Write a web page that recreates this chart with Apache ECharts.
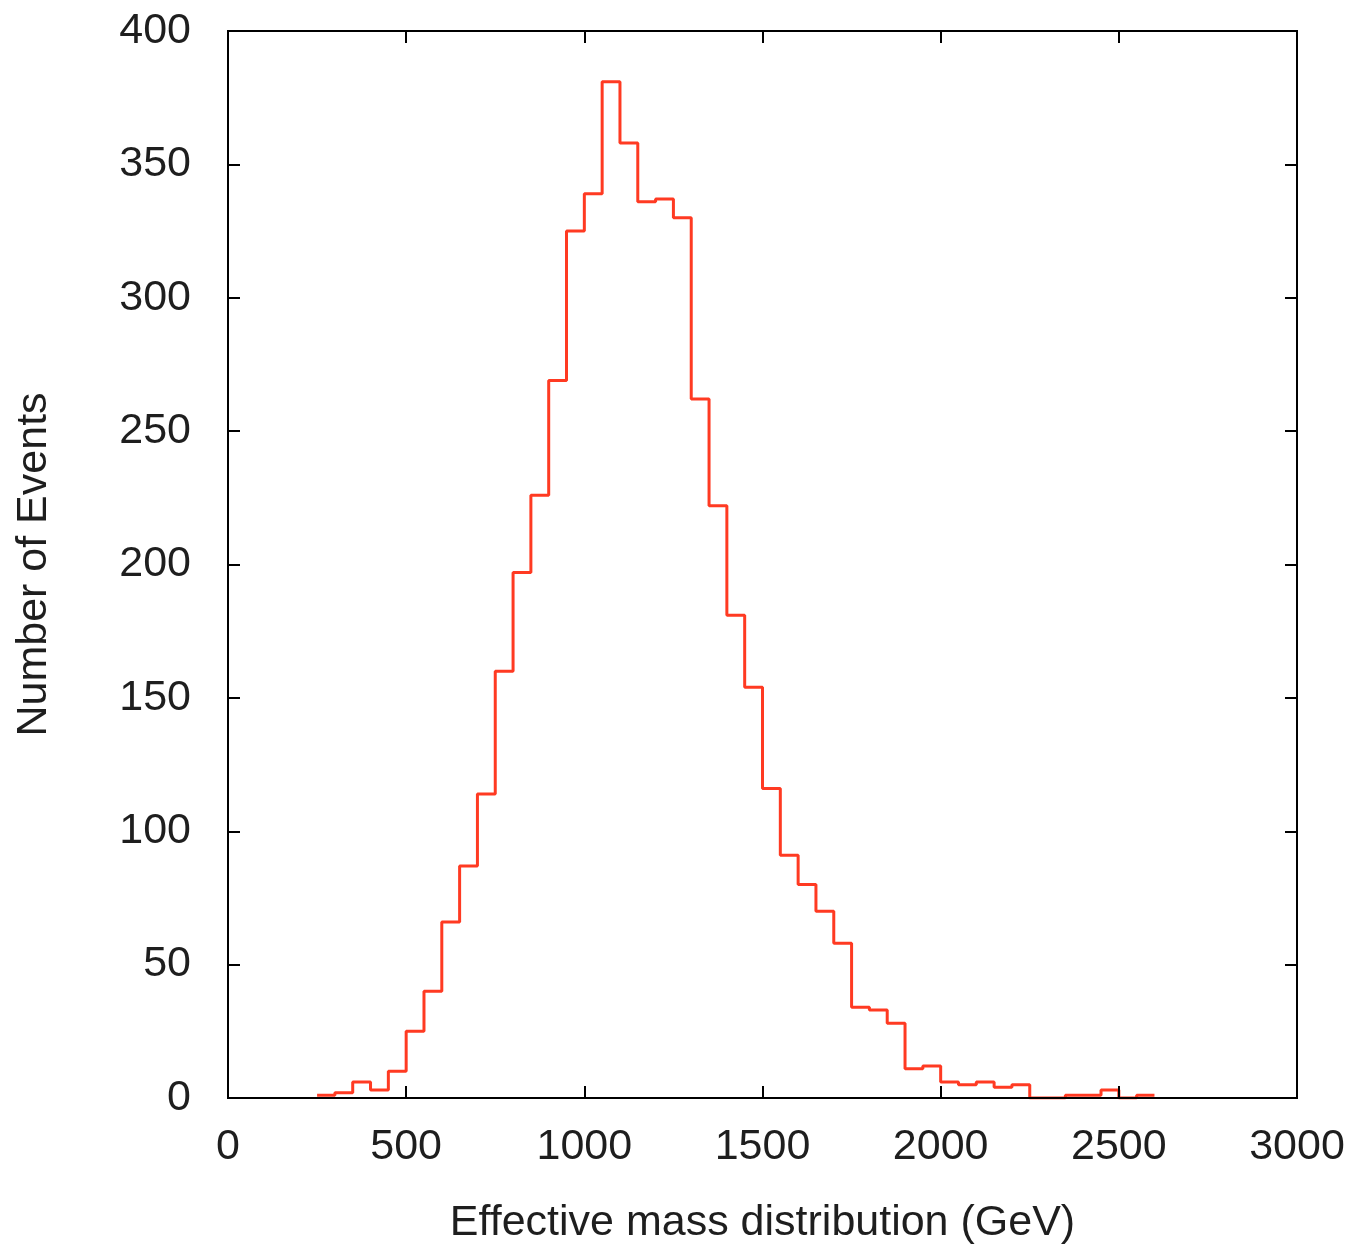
<!DOCTYPE html>
<html>
<head>
<meta charset="utf-8">
<script src="https://cdn.jsdelivr.net/npm/echarts@6/dist/echarts.min.js"></script>
<style>
html,body{margin:0;padding:0;background:#fff;}
#chart{width:1348px;height:1245px;}
</style>
</head>
<body>
<div id="chart"></div>
<script>
// Histogram bins (left edges, GeV) and event counts
const binWidth = 50;
const binLeft = [250,300,350,400,450,500,550,600,650,700,750,800,850,900,950,1000,1050,1100,1150,1200,1250,1300,1350,1400,1450,1500,1550,1600,1650,1700,1750,1800,1850,1900,1950,2000,2050,2100,2150,2200,2250,2300,2350,2400,2450,2500,2550];
const counts  = [1,2,6,3,10,25,40,66,87,114,160,197,226,269,325,339,381,358,336,337,330,262,222,181,154,116,91,80,70,58,34,33,28,11,12,6,5,6,4,5,0,0,1,1,3,0,1];
const xTicks = [0,500,1000,1500,2000,2500,3000];
const yTicks = [0,50,100,150,200,250,300,350,400];

const stepData = binLeft.map((x, i) => [x, counts[i]]);
stepData.push([binLeft[binLeft.length - 1] + binWidth, counts[counts.length - 1]]);

const FONT = 'Liberation Sans';
const TXT = '#1e1e1e';
const FS = 43;
const chart = echarts.init(document.getElementById('chart'));
const axisLineStyle = {color: '#000', width: 2};
const tick = {show: true, inside: true, length: 12, lineStyle: {color: '#000', width: 2}};
const plain = v => String(v);
chart.setOption({
  animation: false,
  backgroundColor: '#fff',
  grid: {left: 228, right: 51, top: 31, bottom: 147, outerBoundsMode: 'none', containLabel: false,
         show: true, borderColor: '#000', borderWidth: 2, backgroundColor: 'transparent'},
  xAxis: [{
    type: 'value', min: xTicks[0], max: xTicks[xTicks.length - 1], interval: 500, position: 'bottom', z: 10,
    name: 'Effective mass distribution (GeV)', nameLocation: 'middle', nameGap: 104,
    nameTextStyle: {fontFamily: FONT, fontSize: FS, color: TXT},
    axisLine: {show: true, onZero: false, lineStyle: axisLineStyle},
    axisTick: tick,
    axisLabel: {fontFamily: FONT, fontSize: FS, color: TXT, margin: 28, formatter: plain},
    splitLine: {show: false}
  }, {
    type: 'value', min: xTicks[0], max: xTicks[xTicks.length - 1], interval: 500, position: 'top', z: 10,
    axisLine: {show: true, onZero: false, lineStyle: axisLineStyle},
    axisTick: tick,
    axisLabel: {show: false}, splitLine: {show: false}
  }],
  yAxis: [{
    type: 'value', min: yTicks[0], max: yTicks[yTicks.length - 1], interval: 50, position: 'left', z: 10,
    name: 'Number of Events', nameLocation: 'middle', nameGap: 172, nameRotate: 90,
    nameTextStyle: {fontFamily: FONT, fontSize: FS, color: TXT},
    axisLine: {show: true, onZero: false, lineStyle: axisLineStyle},
    axisTick: tick,
    axisLabel: {fontFamily: FONT, fontSize: FS, color: TXT, margin: 37, formatter: plain},
    splitLine: {show: false}
  }, {
    type: 'value', min: yTicks[0], max: yTicks[yTicks.length - 1], interval: 50, position: 'right', z: 10,
    axisLine: {show: true, onZero: false, lineStyle: axisLineStyle},
    axisTick: tick,
    axisLabel: {show: false}, splitLine: {show: false}
  }],
  series: [{
    type: 'line', xAxisIndex: 0, yAxisIndex: 0,
    data: stepData, step: 'end', showSymbol: false, symbol: 'none', z: 2,
    lineStyle: {color: '#ff3a22', width: 3}
  }]
});
</script>
</body>
</html>
